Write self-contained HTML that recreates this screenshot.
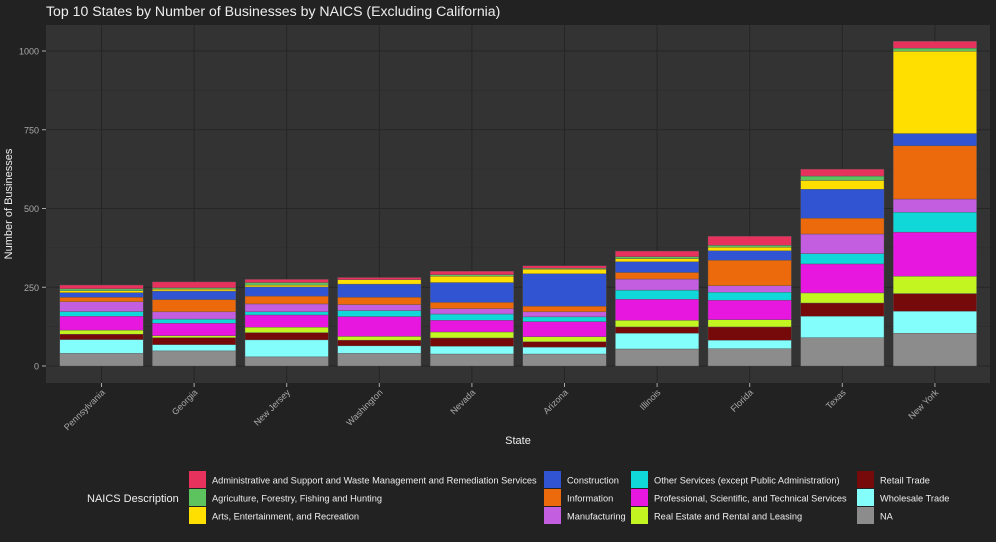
<!DOCTYPE html>
<html><head><meta charset="utf-8"><style>
body{margin:0;background:#222222;}
svg{display:block;font-family:"Liberation Sans",sans-serif;}
</style></head><body>
<svg id="chart" width="996" height="542">
<rect width="996" height="542" fill="#222222"/>
<text x="46" y="16" font-size="14.1" fill="#eeeeee">Top 10 States by Number of Businesses by NAICS (Excluding California)</text>
<rect x="46" y="25" width="944" height="358" fill="#333333"/>
<g id="grid"></g>
<g id="bars"></g>
<g id="axes"></g>
<text x="12" y="204" font-size="11" fill="#eeeeee" transform="rotate(-90 12 204)" text-anchor="middle">Number of Businesses</text>
<text x="518" y="444" font-size="11" fill="#eeeeee" text-anchor="middle">State</text>
<text x="87" y="502" font-size="11" fill="#eeeeee">NAICS Description</text>
<g id="legend"></g>
</svg>
<script>
const states=["Pennsylvania","Georgia","New Jersey","Washington","Nevada","Arizona","Illinois","Florida","Texas","New York"];
const naics=["Administrative and Support and Waste Management and Remediation Services","Agriculture, Forestry, Fishing and Hunting","Arts, Entertainment, and Recreation","Construction","Information","Manufacturing","Other Services (except Public Administration)","Professional, Scientific, and Technical Services","Real Estate and Rental and Leasing","Retail Trade","Wholesale Trade","NA"];
const colors=["#e8325e","#5cc35f","#ffdf00","#3154d2","#ec690c","#c35ee0","#10d8d8","#e817e0","#c3f520","#760909","#84fdfd","#8c8c8c"];
// values per category (index matches naics), per state
const admin=[12,19,10,7,11,8,18,29,22,22];
const agri=[6,4,8,0,5,3,6,6,14,10];
const arts=[6,6,6,14,20,14,10,11,28,261];
const constr=[15,27,29,42,63,103,34,30,92,39];
const info=[14,39,25,23,20,18,21,81,50,169];
const manuf=[31,23,25,19,17,16,35,21,62,42];
const other=[15,13,10,19,20,15,29,25,33,63];
const prof=[44,40,39,63,37,48,67,62,92,140];
const realEstate=[13,6,17,12,19,16,21,23,32,55];
const retail=[17,22,23,18,26,17,20,42,42,56];
const wholesale=[44,20,54,24,25,22,50,27,68,70];
const naVals=[40,48,29,40,38,38,54,55,90,104];
const yTicks=[0,250,500,750,1000];
const series=[admin,agri,arts,constr,info,manuf,other,prof,realEstate,retail,wholesale,naVals];
const NS="http://www.w3.org/2000/svg";
function yS(v){return 366-v*0.315;}
function xS(i){return 101.5+i*92.6;}
function mk(t,a,p){const e=document.createElementNS(NS,t);for(const k in a)e.setAttribute(k,a[k]);p.appendChild(e);return e;}
const grid=document.getElementById('grid'),bars=document.getElementById('bars'),axes=document.getElementById('axes'),leg=document.getElementById('legend');
for(let k=0;k<yTicks.length;k++){
  const v=yTicks[k];
  const l=mk('line',{x1:46,x2:990,y1:yS(v),y2:yS(v),stroke:'#262626','stroke-width':1.1},grid);
  
  
  if(k<yTicks.length-1){const m=mk('line',{x1:46,x2:990,y1:yS(v+125),y2:yS(v+125),stroke:'#2b2b2b','stroke-width':0.6},grid);
  
  }
  const t=mk('text',{x:39,y:yS(v)+3.5,'font-size':9,fill:'#aaaaaa','text-anchor':'end'},axes);t.textContent=v;
  
  
  const tk=mk('line',{x1:42,x2:46,y1:yS(v),y2:yS(v),stroke:'#aaaaaa'},axes);
  
  
}
states.forEach((s,i)=>{
  const x=xS(i);
  const g=mk('line',{x1:x,x2:x,y1:25,y2:383,stroke:'#262626','stroke-width':1.1},grid);
  
  
  let cum=0;
  for(let j=series.length-1;j>=0;j--){
    const v=series[j][i]; if(!v){continue;}
    const r=mk('rect',{x:x-41.7,width:83.4,y:yS(cum+v),height:v*0.315,fill:colors[j],stroke:'#555555','stroke-width':0.4},bars);
    
    
    cum+=v;
  }
  const tk=mk('line',{x1:x,x2:x,y1:383,y2:387,stroke:'#aaaaaa'},axes);
  
  
  const t=mk('text',{x:x+4,y:393,'font-size':9,fill:'#aaaaaa','text-anchor':'end',transform:`rotate(-45 ${x+4} 393)`},axes);t.textContent=s;
  
  
});
const colX=[189,544,631,857];const colCount=[3,3,3,3];
let idx=0;
colX.forEach((cx,c)=>{for(let r=0;r<colCount[c];r++){
  const y=471+r*18;
  const k=mk('rect',{x:cx,y:y,width:17,height:17,fill:colors[idx]},leg);
  
  
  const t=mk('text',{x:cx+23,y:y+12.5,'font-size':9.25,fill:'#eeeeee'},leg);t.textContent=naics[idx];
  
  
  idx++;
}});
</script>
</body></html>
